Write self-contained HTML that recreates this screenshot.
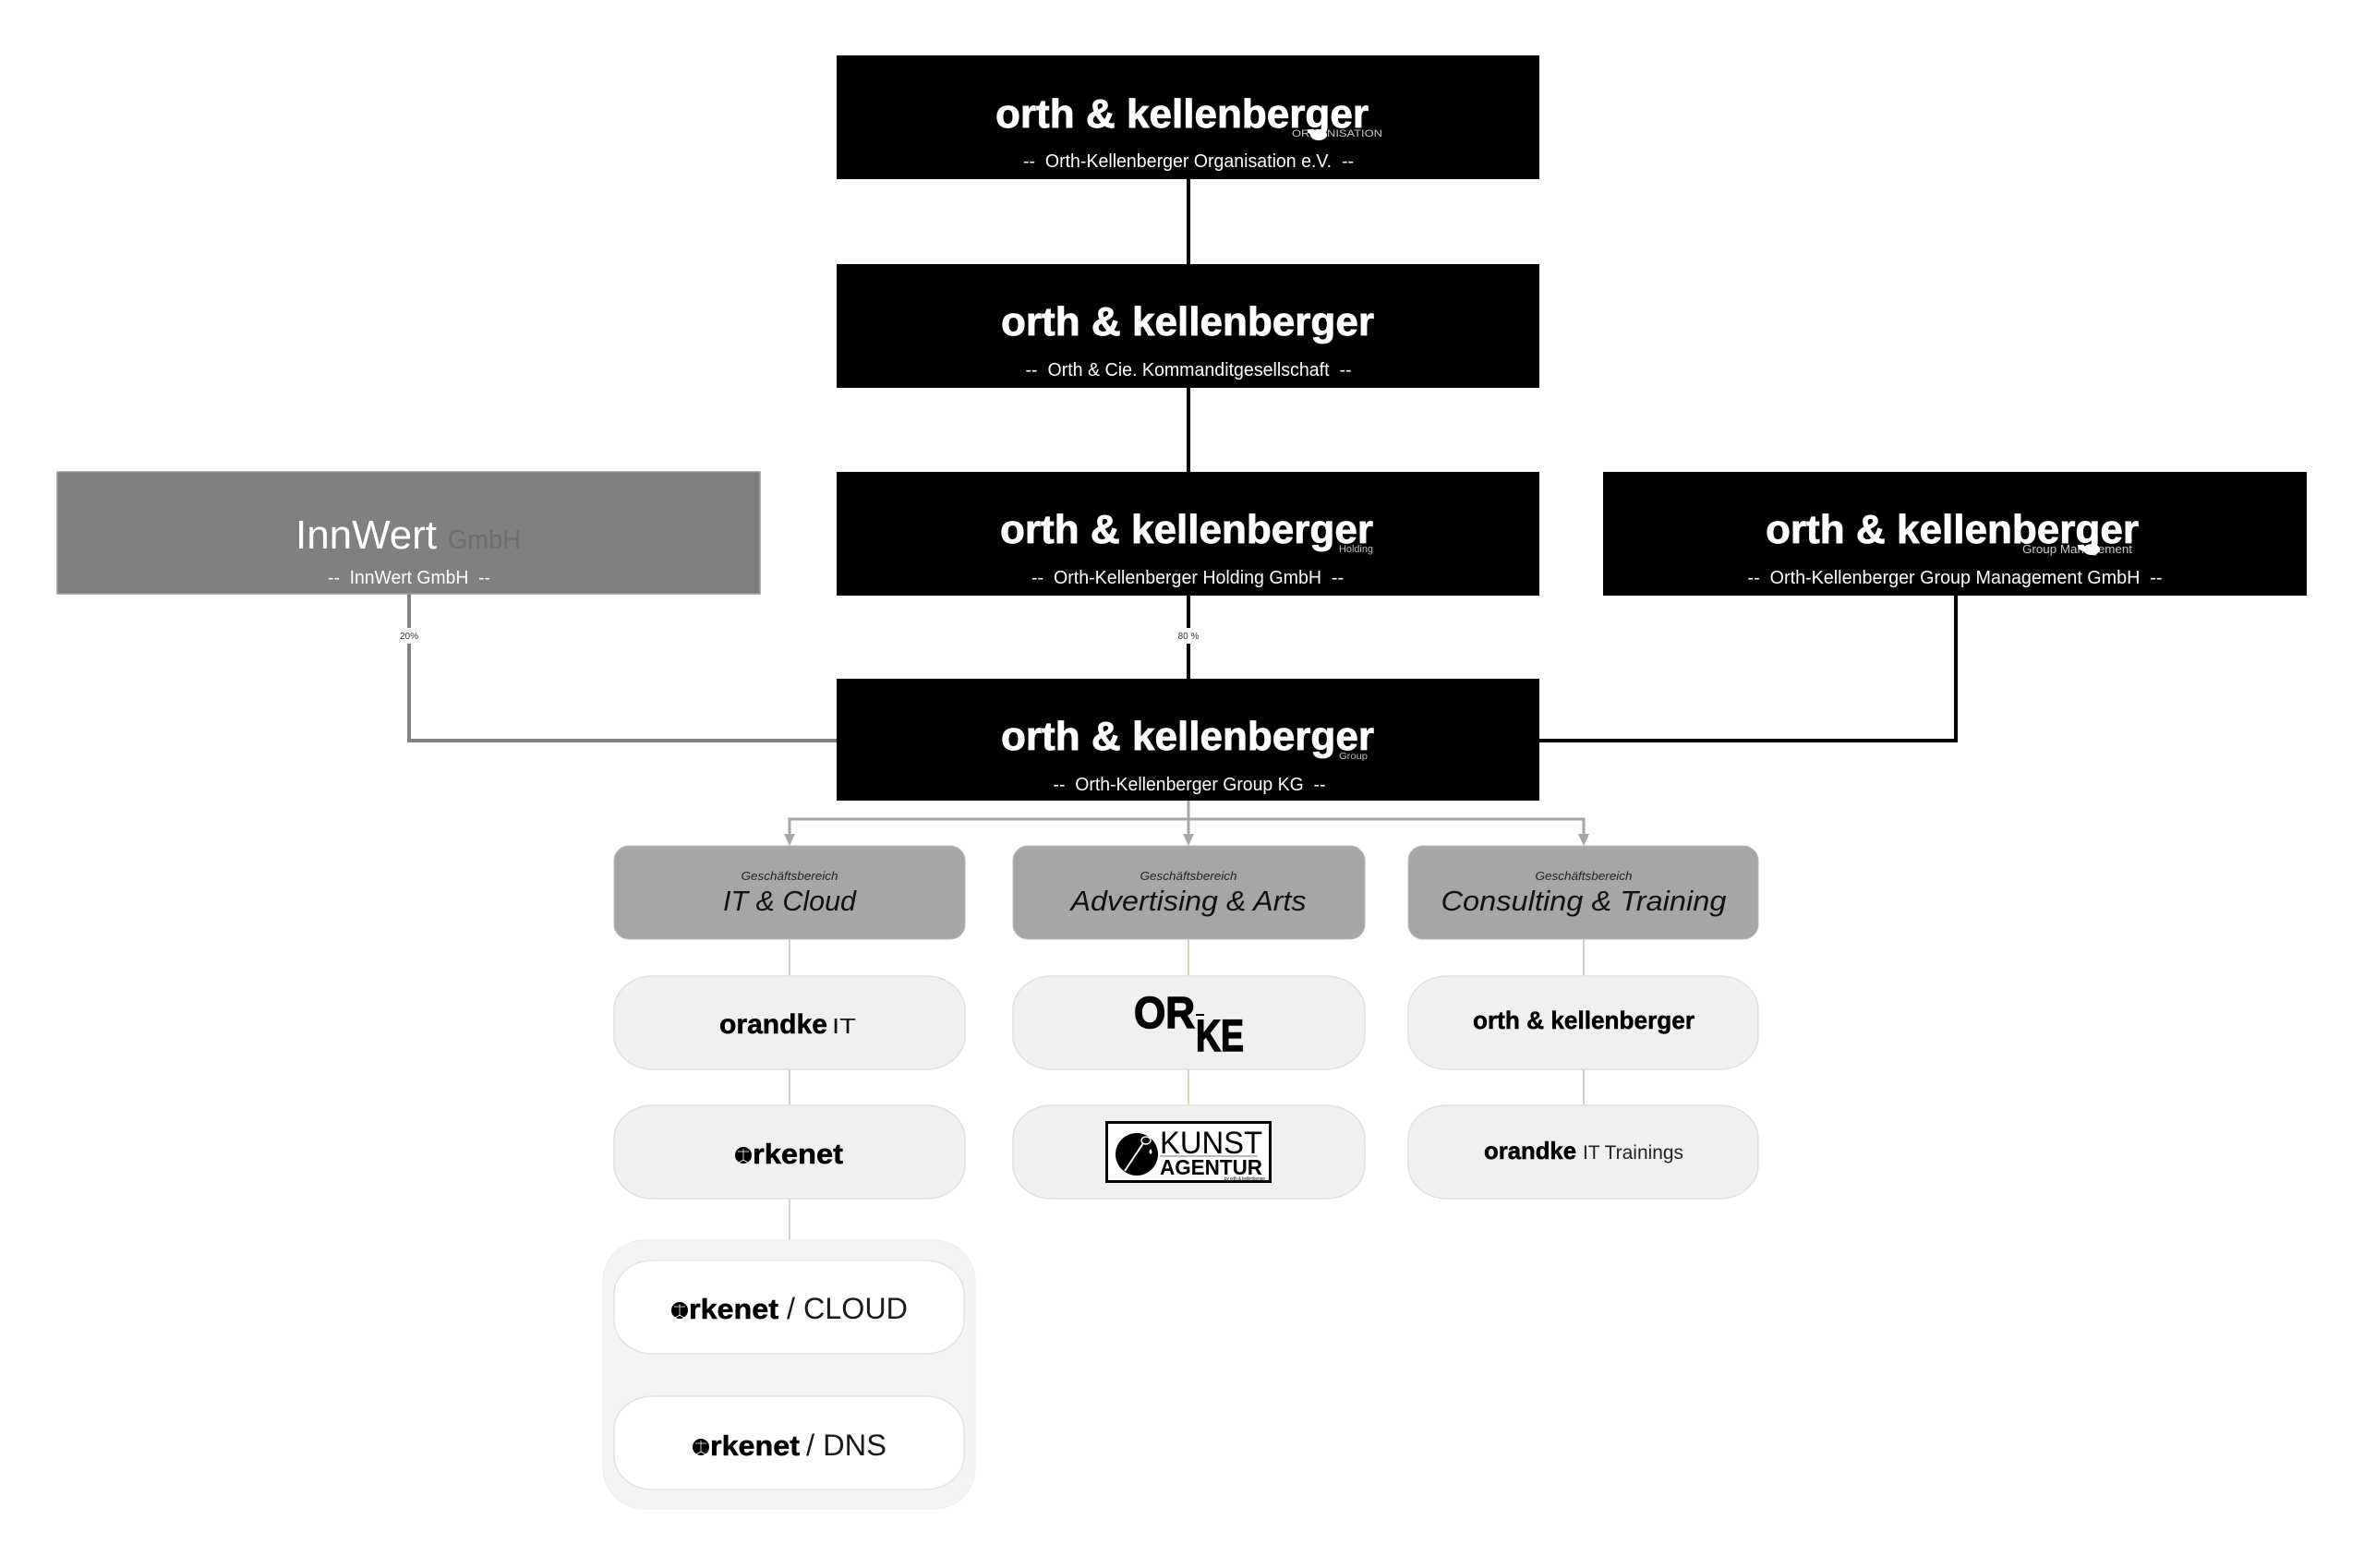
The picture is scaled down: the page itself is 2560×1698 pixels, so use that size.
<!DOCTYPE html>
<html>
<head>
<meta charset="utf-8">
<style>
html,body{margin:0;padding:0;background:#fff;}
body{width:2560px;height:1698px;overflow:hidden;}
svg{display:block;}
text{font-family:"Liberation Sans",Arial,sans-serif;}
</style>
</head>
<body>
<svg width="2560" height="1698" viewBox="0 0 2560 1698" xmlns="http://www.w3.org/2000/svg">
  <rect x="0" y="0" width="2560" height="1698" fill="#ffffff"/>

  <!-- ===== connectors ===== -->
  <line x1="1287" y1="194" x2="1287" y2="286" stroke="#000" stroke-width="4"/>
  <line x1="1287" y1="420" x2="1287" y2="511" stroke="#000" stroke-width="4"/>
  <line x1="1287" y1="643" x2="1287" y2="735" stroke="#000" stroke-width="4"/>
  <polyline points="443,643 443,802 906,802" fill="none" stroke="#808080" stroke-width="4"/>
  <polyline points="2118,643 2118,802 1667,802" fill="none" stroke="#000" stroke-width="4"/>

  <!-- percentage labels -->
  <rect x="428" y="680" width="30" height="17" fill="#fff"/>
  <text x="443" y="692" font-size="10" text-anchor="middle" fill="#333">20%</text>
  <rect x="1270" y="680" width="34" height="17" fill="#fff"/>
  <text x="1287" y="692" font-size="10" text-anchor="middle" fill="#333">80 %</text>

  <!-- business arrows -->
  <line x1="1287" y1="867" x2="1287" y2="904" stroke="#a6a6a6" stroke-width="3"/>
  <polyline points="855,904 855,887 1715,887 1715,904" fill="none" stroke="#a6a6a6" stroke-width="3"/>
  <polygon points="849,903 861,903 855,916" fill="#a6a6a6"/>
  <polygon points="1281,903 1293,903 1287,916" fill="#a6a6a6"/>
  <polygon points="1709,903 1721,903 1715,916" fill="#a6a6a6"/>

  <!-- pill connectors -->
  <line x1="855" y1="1017" x2="855" y2="1057" stroke="#cfcfcf" stroke-width="2"/>
  <line x1="855" y1="1158" x2="855" y2="1197" stroke="#cfcfcf" stroke-width="2"/>
  <line x1="855" y1="1298" x2="855" y2="1344" stroke="#d4d4d4" stroke-width="2"/>
  <line x1="1287" y1="1017" x2="1287" y2="1057" stroke="#d8d8a8" stroke-width="2"/>
  <line x1="1287" y1="1158" x2="1287" y2="1197" stroke="#d8d8a8" stroke-width="2"/>
  <line x1="1715" y1="1017" x2="1715" y2="1057" stroke="#cfcfcf" stroke-width="2"/>
  <line x1="1715" y1="1158" x2="1715" y2="1197" stroke="#cfcfcf" stroke-width="2"/>

  <!-- ===== black boxes ===== -->
  <!-- top -->
  <rect x="906" y="60" width="761" height="134" fill="#000"/>
  <text x="1399" y="148" font-size="11" fill="#c8c8c8" textLength="98" lengthAdjust="spacingAndGlyphs">ORGANISATION</text>
  <text x="1280" y="138" font-size="44" font-weight="bold" fill="#fff" stroke="#fff" stroke-width="0.8" text-anchor="middle" textLength="404" lengthAdjust="spacingAndGlyphs">orth &amp; kellenberger</text>
  <ellipse cx="1428" cy="146" rx="9" ry="6" fill="#fff"/>
  <text x="1287" y="181" font-size="20" fill="#fff" text-anchor="middle" textLength="358" lengthAdjust="spacingAndGlyphs">--&#160; Orth-Kellenberger Organisation e.V. &#160;--</text>

  <!-- second -->
  <rect x="906" y="286" width="761" height="134" fill="#000"/>
  <text x="1286" y="363" font-size="44" font-weight="bold" fill="#fff" stroke="#fff" stroke-width="0.8" text-anchor="middle" textLength="404" lengthAdjust="spacingAndGlyphs">orth &amp; kellenberger</text>
  <text x="1287" y="407" font-size="20" fill="#fff" text-anchor="middle" textLength="353" lengthAdjust="spacingAndGlyphs">--&#160; Orth &amp; Cie. Kommanditgesellschaft &#160;--</text>

  <!-- InnWert -->
  <rect x="62" y="511" width="761" height="132" fill="#808080" stroke="#9a9a9a" stroke-width="1.5"/>
  <text x="320" y="594" font-size="44" fill="#fff" textLength="153" lengthAdjust="spacingAndGlyphs">InnWert</text>
  <text x="485" y="594" font-size="29" fill="#6e6e6e" textLength="79" lengthAdjust="spacingAndGlyphs">GmbH</text>
  <text x="443" y="632" font-size="20" fill="#fff" text-anchor="middle" textLength="176" lengthAdjust="spacingAndGlyphs">--&#160; InnWert GmbH &#160;--</text>

  <!-- Holding -->
  <rect x="906" y="511" width="761" height="134" fill="#000"/>
  <text x="1285" y="588" font-size="44" font-weight="bold" fill="#fff" stroke="#fff" stroke-width="0.8" text-anchor="middle" textLength="404" lengthAdjust="spacingAndGlyphs">orth &amp; kellenberger</text>
  <text x="1450" y="598" font-size="11" fill="#bdbdbd" textLength="37" lengthAdjust="spacingAndGlyphs">Holding</text>
  <text x="1286" y="632" font-size="20" fill="#fff" text-anchor="middle" textLength="338" lengthAdjust="spacingAndGlyphs">--&#160; Orth-Kellenberger Holding GmbH &#160;--</text>

  <!-- Group Management -->
  <rect x="1736" y="511" width="762" height="134" fill="#000"/>
  <text x="2190" y="599" font-size="13" fill="#c8c8c8" textLength="119" lengthAdjust="spacingAndGlyphs">Group Management</text>
  <text x="2114" y="588" font-size="44" font-weight="bold" fill="#fff" stroke="#fff" stroke-width="0.8" text-anchor="middle" textLength="404" lengthAdjust="spacingAndGlyphs">orth &amp; kellenberger</text>
  <ellipse cx="2265" cy="595" rx="9" ry="6" fill="#fff"/>
  <text x="2117" y="632" font-size="20" fill="#fff" text-anchor="middle" textLength="449" lengthAdjust="spacingAndGlyphs">--&#160; Orth-Kellenberger Group Management GmbH &#160;--</text>

  <!-- Group KG -->
  <rect x="906" y="735" width="761" height="132" fill="#000"/>
  <text x="1286" y="812" font-size="44" font-weight="bold" fill="#fff" stroke="#fff" stroke-width="0.8" text-anchor="middle" textLength="404" lengthAdjust="spacingAndGlyphs">orth &amp; kellenberger</text>
  <text x="1450" y="822" font-size="10" fill="#bdbdbd" textLength="31" lengthAdjust="spacingAndGlyphs">Group</text>
  <text x="1288" y="856" font-size="20" fill="#fff" text-anchor="middle" textLength="295" lengthAdjust="spacingAndGlyphs">--&#160; Orth-Kellenberger Group KG &#160;--</text>

  <!-- ===== business boxes ===== -->
  <rect x="665" y="916" width="380" height="101" rx="16" ry="16" fill="#a6a6a6" stroke="#b8b8b8" stroke-width="1"/>
  <text x="855" y="953" font-size="13" font-style="italic" fill="#222" text-anchor="middle" textLength="105" lengthAdjust="spacingAndGlyphs">Geschäftsbereich</text>
  <text x="855" y="986" font-size="31" font-style="italic" fill="#111" text-anchor="middle" textLength="144" lengthAdjust="spacingAndGlyphs">IT &amp; Cloud</text>

  <rect x="1097" y="916" width="381" height="101" rx="16" ry="16" fill="#a6a6a6" stroke="#b8b8b8" stroke-width="1"/>
  <text x="1287" y="953" font-size="13" font-style="italic" fill="#222" text-anchor="middle" textLength="105" lengthAdjust="spacingAndGlyphs">Geschäftsbereich</text>
  <text x="1287" y="986" font-size="31" font-style="italic" fill="#111" text-anchor="middle" textLength="255" lengthAdjust="spacingAndGlyphs">Advertising &amp; Arts</text>

  <rect x="1525" y="916" width="379" height="101" rx="16" ry="16" fill="#a6a6a6" stroke="#b8b8b8" stroke-width="1"/>
  <text x="1715" y="953" font-size="13" font-style="italic" fill="#222" text-anchor="middle" textLength="105" lengthAdjust="spacingAndGlyphs">Geschäftsbereich</text>
  <text x="1715" y="986" font-size="31" font-style="italic" fill="#111" text-anchor="middle" textLength="309" lengthAdjust="spacingAndGlyphs">Consulting &amp; Training</text>

  <!-- ===== pills row 1 ===== -->
  <rect x="665" y="1057" width="380" height="101" rx="42" ry="36" fill="#f0f0f0" stroke="#e0e0e0" stroke-width="1.5"/>
  <text x="779" y="1119" font-size="30" font-weight="bold" fill="#000" stroke="#000" stroke-width="0.5" textLength="117" lengthAdjust="spacingAndGlyphs">orandke</text>
  <text x="901" y="1119" font-size="23" fill="#111" textLength="26" lengthAdjust="spacingAndGlyphs">IT</text>

  <rect x="1097" y="1057" width="381" height="101" rx="42" ry="36" fill="#f0f0f0" stroke="#e0e0e0" stroke-width="1.5"/>
  <text x="1228" y="1113" font-size="48" font-weight="bold" fill="#000" stroke="#000" stroke-width="1.5" textLength="66" lengthAdjust="spacingAndGlyphs">OR</text>
  <text x="1295" y="1138" font-size="48" font-weight="bold" fill="#000" stroke="#000" stroke-width="1.5" textLength="52" lengthAdjust="spacingAndGlyphs">KE</text>
  <rect x="1295" y="1098" width="9" height="2" fill="#000"/>

  <rect x="1525" y="1057" width="379" height="101" rx="42" ry="36" fill="#f0f0f0" stroke="#e0e0e0" stroke-width="1.5"/>
  <text x="1715" y="1114" font-size="27" font-weight="bold" fill="#000" stroke="#000" stroke-width="0.5" text-anchor="middle" textLength="240" lengthAdjust="spacingAndGlyphs">orth &amp; kellenberger</text>

  <!-- ===== pills row 2 ===== -->
  <rect x="665" y="1197" width="380" height="101" rx="42" ry="36" fill="#f0f0f0" stroke="#e0e0e0" stroke-width="1.5"/>
  <circle cx="805" cy="1251" r="9" fill="#000"/>
  <path d="M805 1244 L805 1256 M799 1247 L811 1247 M805 1256 L800 1259 M805 1256 L810 1259" stroke="#fff" stroke-width="0.8" fill="none"/>
  <text x="815" y="1260" font-size="31" font-weight="bold" fill="#000" stroke="#000" stroke-width="0.5" textLength="98" lengthAdjust="spacingAndGlyphs">rkenet</text>

  <rect x="1097" y="1197" width="381" height="101" rx="42" ry="36" fill="#f0f0f0" stroke="#e0e0e0" stroke-width="1.5"/>
  <rect x="1198.5" y="1215.5" width="177" height="64" fill="#fff" stroke="#000" stroke-width="3"/>
  <circle cx="1231" cy="1250" r="23" fill="#000"/>
  <path d="M1218 1268 L1238 1238" stroke="#fff" stroke-width="2" fill="none"/>
  <ellipse cx="1241" cy="1235" rx="5" ry="4" fill="none" stroke="#fff" stroke-width="1.5"/>
  <path d="M1246 1244 q3 4 0 6 q-3 -2 0 -6z" fill="#fff"/>
  <text x="1256" y="1249" font-size="34" fill="#000" textLength="111" lengthAdjust="spacingAndGlyphs">KUNST</text>
  <line x1="1256" y1="1252" x2="1362" y2="1252" stroke="#777" stroke-width="1"/>
  <text x="1256" y="1272" font-size="23" font-weight="bold" fill="#000" textLength="111" lengthAdjust="spacingAndGlyphs">AGENTUR</text>
  <text x="1326" y="1278" font-size="5" fill="#000" textLength="44" lengthAdjust="spacingAndGlyphs">by orth &amp; kellenberger</text>

  <rect x="1525" y="1197" width="379" height="101" rx="42" ry="36" fill="#f0f0f0" stroke="#e0e0e0" stroke-width="1.5"/>
  <text x="1607" y="1255" font-size="26" font-weight="bold" fill="#000" stroke="#000" stroke-width="0.5" textLength="100" lengthAdjust="spacingAndGlyphs">orandke</text>
  <text x="1714" y="1255" font-size="21" fill="#222" textLength="109" lengthAdjust="spacingAndGlyphs">IT Trainings</text>

  <!-- ===== cloud / dns container ===== -->
  <rect x="653" y="1343" width="403" height="291" rx="44" ry="44" fill="#f3f3f3" stroke="#eeeeee" stroke-width="1"/>
  <rect x="665" y="1365" width="379" height="101" rx="42" ry="36" fill="#fff" stroke="#e2e2e2" stroke-width="1.5"/>
  <circle cx="736" cy="1419" r="9" fill="#000"/>
  <path d="M736 1412 L736 1424 M730 1415 L742 1415 M736 1424 L731 1427 M736 1424 L741 1427" stroke="#fff" stroke-width="0.8" fill="none"/>
  <text x="746" y="1428" font-size="31" font-weight="bold" fill="#000" stroke="#000" stroke-width="0.5" textLength="97" lengthAdjust="spacingAndGlyphs">rkenet</text>
  <text x="852" y="1428" font-size="32" fill="#1a1a1a" textLength="131" lengthAdjust="spacingAndGlyphs">/ CLOUD</text>

  <rect x="665" y="1512" width="379" height="101" rx="42" ry="36" fill="#fff" stroke="#e2e2e2" stroke-width="1.5"/>
  <circle cx="759" cy="1567" r="9" fill="#000"/>
  <path d="M759 1560 L759 1572 M753 1563 L765 1563 M759 1572 L754 1575 M759 1572 L764 1575" stroke="#fff" stroke-width="0.8" fill="none"/>
  <text x="769" y="1576" font-size="31" font-weight="bold" fill="#000" stroke="#000" stroke-width="0.5" textLength="97" lengthAdjust="spacingAndGlyphs">rkenet</text>
  <text x="873" y="1576" font-size="32" fill="#1a1a1a" textLength="87" lengthAdjust="spacingAndGlyphs">/ DNS</text>
</svg>
</body>
</html>
